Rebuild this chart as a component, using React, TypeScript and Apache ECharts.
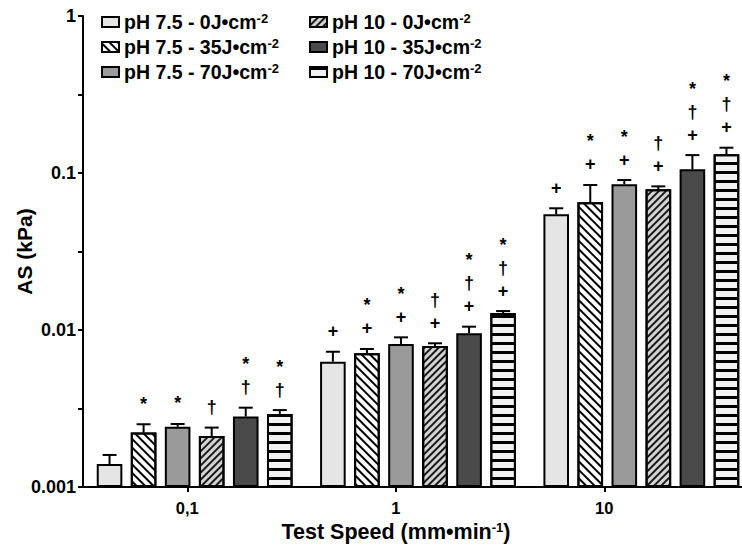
import React, { useEffect, useRef } from 'react';
import * as echarts from 'echarts';

// ---- data ----
const categories = ['0,1', '1', '10'];
const yTickLabels = ['0.001', '0.01', '0.1', '1'];
const yMin = 0.001;
const yMax = 1;
const seriesNames = [
  'pH 7.5 - 0J•cm',
  'pH 7.5 - 35J•cm',
  'pH 7.5 - 70J•cm',
  'pH 10 - 0J•cm',
  'pH 10 - 35J•cm',
  'pH 10 - 70J•cm',
];
const unitSup = '-2';

const mean75_0 = [0.0014, 0.00628, 0.0546];
const sd75_0 = [0.0002, 0.00099, 0.005];
const mean75_35 = [0.00222, 0.0071, 0.065];
const sd75_35 = [0.00029, 0.00047, 0.0189];
const mean75_70 = [0.00242, 0.00815, 0.0847];
const sd75_70 = [0.0001, 0.00083, 0.0055];
const mean10_0 = [0.00211, 0.00791, 0.0787];
const sd10_0 = [0.00028, 0.00032, 0.0035];
const mean10_35 = [0.00281, 0.00953, 0.1055];
const sd10_35 = [0.00039, 0.00097, 0.0245];
const mean10_70 = [0.00292, 0.01283, 0.1315];
const sd10_70 = [0.00017, 0.00037, 0.0134];

const sig75_0 = ['', '+', '+'];
const sig75_35 = ['*', '*\n+', '*\n+'];
const sig75_70 = ['*', '*\n+', '*\n+'];
const sig10_0 = ['†', '†\n+', '†\n+'];
const sig10_35 = ['*\n†', '*\n†\n+', '*\n†\n+'];
const sig10_70 = ['*\n†', '*\n†\n+', '*\n†\n+'];

const means = [mean75_0, mean75_35, mean75_70, mean10_0, mean10_35, mean10_70];
const sds = [sd75_0, sd75_35, sd75_70, sd10_0, sd10_35, sd10_70];
const sigs = [sig75_0, sig75_35, sig75_70, sig10_0, sig10_35, sig10_70];

// ---- styles ----
const FONT = 'Liberation Sans, Arial, Helvetica, sans-serif';
const BAR_W = 25.6;
const GAP_RATIO = 0.33;

const fills = ['#e5e5e5', '#ffffff', '#9a9a9a', '#d4d4d4', '#4a4a4a', '#f2f2f2'];
const decals: any[] = [
  null,
  { symbol: 'rect', symbolSize: 1, color: '#000', dashArrayX: [1, 0], dashArrayY: [1.8, 3.2], rotation: Math.PI / 4 },
  null,
  { symbol: 'rect', symbolSize: 1, color: '#1a1a1a', dashArrayX: [1, 0], dashArrayY: [1.5, 2.2], rotation: -Math.PI / 4 },
  null,
  { symbol: 'rect', symbolSize: 1, color: '#000', dashArrayX: [1, 0], dashArrayY: [3, 5.5], rotation: 0 },
];

const legendRich = {
  t: { fontFamily: FONT, fontSize: 19.5, fontWeight: 'bold', color: '#000', lineHeight: 20 },
  s: { fontFamily: FONT, fontSize: 13, fontWeight: 'bold', color: '#000', lineHeight: 12, verticalAlign: 'top' },
};

export default function App() {
  const ref = useRef<HTMLDivElement>(null);

  useEffect(() => {
    if (!ref.current) return;
    const chart = echarts.init(ref.current, undefined, { renderer: 'svg' });

    // On a log axis ECharts bars grow from 1, so each bar sits in its own stack
    // on top of an invisible base bar that reaches the axis minimum.
    const barSeries: any[] = [];
    seriesNames.forEach((name, k) => {
      barSeries.push({
        name: '__base' + k,
        type: 'bar',
        stack: 's' + k,
        xAxisIndex: 0,
        yAxisIndex: 0,
        barWidth: BAR_W,
        barGap: GAP_RATIO * 100 + '%',
        data: categories.map(() => yMin),
        itemStyle: { color: 'rgba(0,0,0,0)', borderWidth: 0 },
        silent: true,
        z: 1,
      });
      barSeries.push({
        name,
        type: 'bar',
        stack: 's' + k,
        xAxisIndex: 0,
        yAxisIndex: 0,
        barWidth: BAR_W,
        barGap: GAP_RATIO * 100 + '%',
        data: means[k].map((v) => v - yMin),
        itemStyle: {
          color: fills[k],
          borderColor: '#000',
          borderWidth: 2,
          ...(decals[k] ? { decal: decals[k] } : {}),
        },
        z: 2,
      });
    });

    const errData: any[] = [];
    const errSigs: string[] = [];
    for (let k = 0; k < seriesNames.length; k++) {
      for (let c = 0; c < categories.length; c++) {
        errData.push([c, k, means[k][c], means[k][c] + sds[k][c]]);
        errSigs.push(sigs[k][c]);
      }
    }

    const n = seriesNames.length;
    const errSeries = {
      type: 'custom',
      xAxisIndex: 0,
      yAxisIndex: 0,
      z: 5,
      clip: false,
      data: errData,
      renderItem: (params: any, api: any) => {
        const c = api.value(0);
        const k = api.value(1);
        const m = api.value(2);
        const top = api.value(3);
        const basePt = api.coord([c, m]);
        const capPt = api.coord([c, top]);
        const step = BAR_W * (1 + GAP_RATIO);
        const x = basePt[0] + (k - (n - 1) / 2) * step;
        const children: any[] = [
          { type: 'line', shape: { x1: x, y1: basePt[1], x2: x, y2: capPt[1] }, style: { stroke: '#000', lineWidth: 2 } },
          { type: 'line', shape: { x1: x - 7, y1: capPt[1], x2: x + 7, y2: capPt[1] }, style: { stroke: '#000', lineWidth: 2 } },
        ];
        const s = errSigs[params.dataIndex];
        if (s) {
          children.push({
            type: 'text',
            x: x,
            y: capPt[1] - 9,
            style: {
              text: s,
              fill: '#000',
              font: `bold 18px ${FONT}`,
              align: 'center',
              verticalAlign: 'bottom',
              lineHeight: 23,
            },
          });
        }
        return { type: 'group', children };
      },
    };

    const option: any = {
      animation: false,
      backgroundColor: '#fff',
      title: {
        text: '{t|Test Speed (mm•min}{s|-1}{t|)}',
        left: 396,
        top: 521,
        padding: 0,
        textAlign: 'center',
        textStyle: {
          rich: {
            t: { fontFamily: FONT, fontSize: 21.5, fontWeight: 'bold', color: '#000', lineHeight: 21 },
            s: { fontFamily: FONT, fontSize: 13, fontWeight: 'bold', color: '#000', lineHeight: 13, verticalAlign: 'top' },
          },
        },
      },
      legend: [
        {
          data: seriesNames.slice(0, 3),
          orient: 'vertical',
          left: 96,
          top: 7,
          itemWidth: 17,
          itemHeight: 10,
          itemGap: 5,
          icon: 'rect',
          selectedMode: false,
          formatter: (name: string) => `{t|${name}}{s|${unitSup}}`,
          textStyle: { rich: legendRich },
        },
        {
          data: seriesNames.slice(3, 6),
          orient: 'vertical',
          left: 304,
          top: 7,
          itemWidth: 17,
          itemHeight: 10,
          itemGap: 5,
          icon: 'rect',
          selectedMode: false,
          formatter: (name: string) => `{t|${name}}{s|${unitSup}}`,
          textStyle: { rich: legendRich },
        },
      ],
      grid: [
        { left: 83, top: 16, width: 670, height: 471, containLabel: false, outerBoundsMode: 'none' },
        { left: 83, top: 16, width: 625.5, height: 471, containLabel: false, outerBoundsMode: 'none' },
      ],
      xAxis: [
        {
          type: 'category',
          gridIndex: 0,
          data: categories,
          axisLine: { show: true, onZero: false, lineStyle: { color: '#000', width: 2 } },
          axisTick: { show: false },
          axisLabel: { show: false },
          splitLine: { show: false },
        },
        {
          type: 'category',
          gridIndex: 1,
          data: categories,
          axisLine: { show: false, onZero: false },
          axisTick: { show: true, alignWithLabel: true, length: 5, lineStyle: { color: '#000', width: 2 } },
          axisLabel: { color: '#000', fontFamily: FONT, fontSize: 16.5, fontWeight: 'bold', margin: 12 },
          splitLine: { show: false },
        },
      ],
      yAxis: [
        {
          type: 'log',
          gridIndex: 0,
          logBase: 10,
          min: yMin,
          max: yMax,
          interval: 0.5,
          axisLine: { show: true, lineStyle: { color: '#000', width: 2 } },
          axisTick: { show: true, length: 5, lineStyle: { color: '#000', width: 2 } },
          axisLabel: {
            color: '#000',
            fontFamily: FONT,
            fontSize: 18,
            fontWeight: 'bold',
            margin: 7,
            formatter: (v: number) => {
              const e = Math.log10(v);
              const r = Math.round(e);
              if (Math.abs(e - r) > 1e-6) return '';
              return yTickLabels[r + 3] ?? '';
            },
          },
          splitLine: { show: false },
          name: 'AS (kPa)',
          nameLocation: 'middle',
          nameGap: 48,
          nameMoveOverlap: false,
          nameTextStyle: { color: '#000', fontFamily: FONT, fontSize: 21, fontWeight: 'bold' },
        },
        { type: 'value', gridIndex: 1, show: false },
      ],
      series: [...barSeries, errSeries],
    };

    chart.setOption(option);
    return () => chart.dispose();
  }, []);

  return (
    <div
      ref={ref}
      style={{ position: 'fixed', left: 0, top: 0, width: 742, height: 545, background: '#fff' }}
    />
  );
}
